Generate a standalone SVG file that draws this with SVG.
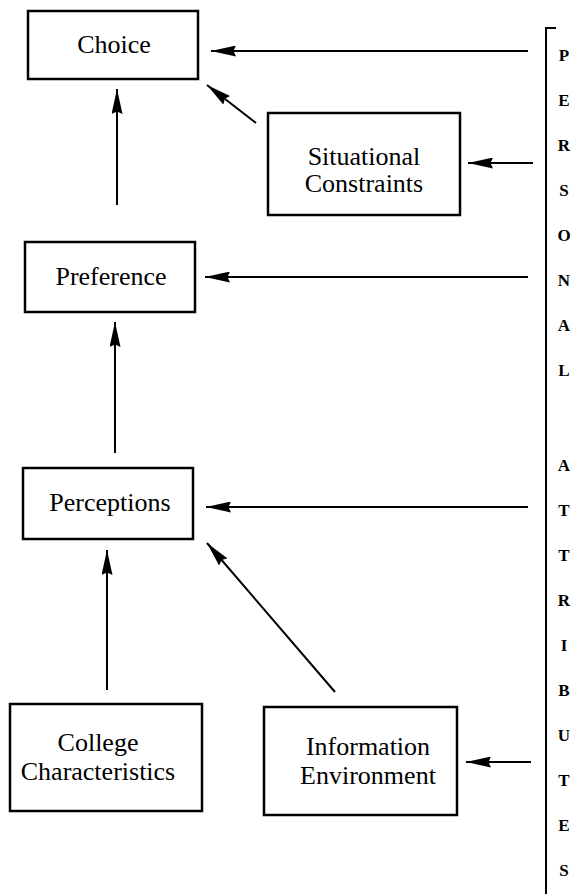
<svg xmlns="http://www.w3.org/2000/svg" width="576" height="894" viewBox="0 0 576 894">
<style>
.box{fill:#fff;stroke:#000;stroke-width:2.5}
.lbl{font-family:"Liberation Serif","Times New Roman",serif;font-size:26px;fill:#000;text-anchor:middle}
.let{font-family:"Liberation Serif","Times New Roman",serif;font-size:17px;font-weight:bold;fill:#000;text-anchor:middle}
.con{stroke:#000;stroke-width:2;fill:none;marker-end:url(#ah)}
</style>
<defs>
<marker id="ah" markerUnits="userSpaceOnUse" markerWidth="25" markerHeight="11" refX="25" refY="5.5" orient="auto">
<path d="M0,0 L25,5.5 L0,11 L2.5,5.5 z" fill="#000"/>
</marker>
</defs>
<rect width="576" height="894" fill="#fff"/>
<g id="choice"><rect class="box" x="28" y="11" width="170" height="68"/><text class="lbl" x="114" y="53">Choice</text></g>
<g id="situational"><rect class="box" x="268" y="113" width="192" height="102"/><text class="lbl" x="364" y="165">Situational</text><text class="lbl" x="364" y="192">Constraints</text></g>
<g id="preference"><rect class="box" x="25" y="242" width="170" height="70"/><text class="lbl" x="111" y="285">Preference</text></g>
<g id="perceptions"><rect class="box" x="23" y="468" width="170" height="71"/><text class="lbl" x="110" y="511">Perceptions</text></g>
<g id="college"><rect class="box" x="10" y="704" width="192" height="107"/><text class="lbl" x="98" y="751">College</text><text class="lbl" x="98" y="780">Characteristics</text></g>
<g id="information"><rect class="box" x="264" y="707" width="193" height="108"/><text class="lbl" x="368" y="755">Information</text><text class="lbl" x="368" y="784">Environment</text></g>
<g id="personal-attributes">
<path d="M556,28 L546,28 L546,894" stroke="#000" stroke-width="2" fill="none"/>
<text class="let" x="564" y="61">P</text>
<text class="let" x="564" y="106">E</text>
<text class="let" x="564" y="151">R</text>
<text class="let" x="564" y="196">S</text>
<text class="let" x="564" y="241">O</text>
<text class="let" x="564" y="286">N</text>
<text class="let" x="564" y="331">A</text>
<text class="let" x="564" y="376">L</text>
<text class="let" x="564" y="471">A</text>
<text class="let" x="564" y="516">T</text>
<text class="let" x="564" y="561">T</text>
<text class="let" x="564" y="606">R</text>
<text class="let" x="564" y="651">I</text>
<text class="let" x="564" y="696">B</text>
<text class="let" x="564" y="741">U</text>
<text class="let" x="564" y="786">T</text>
<text class="let" x="564" y="831">E</text>
<text class="let" x="564" y="876">S</text>
</g>
<g id="connectors">
<line class="con" x1="528" y1="51" x2="211" y2="51"/>
<line class="con" x1="256" y1="123" x2="207" y2="85"/>
<line class="con" x1="533" y1="163" x2="468" y2="163"/>
<line class="con" x1="117" y1="205" x2="117" y2="89"/>
<line class="con" x1="528" y1="277" x2="205" y2="277"/>
<line class="con" x1="115" y1="453" x2="115" y2="322"/>
<line class="con" x1="528" y1="507" x2="206" y2="507"/>
<line class="con" x1="107" y1="690" x2="107" y2="550"/>
<line class="con" x1="335" y1="692" x2="207" y2="543"/>
<line class="con" x1="531" y1="762" x2="466" y2="762"/>
</g>
</svg>
